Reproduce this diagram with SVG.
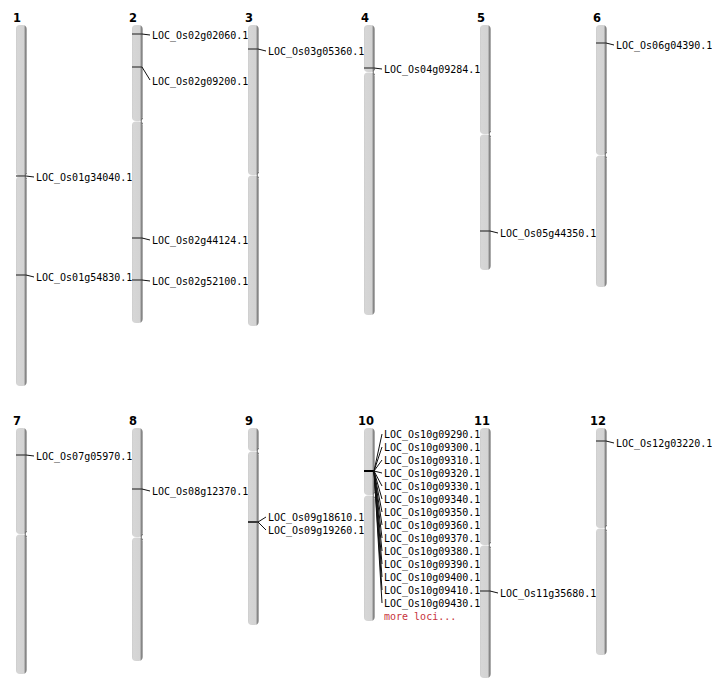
<svg xmlns="http://www.w3.org/2000/svg" width="712" height="700" viewBox="0 0 712 700">
<defs>
<linearGradient id="chrGrad" x1="0" y1="0" x2="1" y2="0">
<stop offset="0" stop-color="#cdcdcd"/>
<stop offset="0.15" stop-color="#d6d6d6"/>
<stop offset="0.72" stop-color="#d3d3d3"/>
<stop offset="0.84" stop-color="#a8a8a8"/>
<stop offset="1" stop-color="#555555"/>
</linearGradient>
</defs>
<style>
.arm{fill:url(#chrGrad);}
.notch{fill:none;stroke:#666;stroke-width:1;}
.num{font-family:"DejaVu Sans",sans-serif;font-size:11.5px;font-weight:bold;fill:#000;}
.lbl{font-family:"DejaVu Sans Mono","Liberation Mono",monospace;font-size:10px;fill:#000;}
.more{font-family:"DejaVu Sans Mono","Liberation Mono",monospace;font-size:10px;fill:#c8323c;}
.mk{stroke:#3a3a3a;stroke-width:1.2;fill:none;}
.cn{stroke:#111;stroke-width:1;fill:none;}
</style>
<rect width="712" height="700" fill="#fff"/>

<g id="chr1">
<text class="num" x="13" y="22">1</text>
<rect class="arm" x="16" y="25" width="10.5" height="151" rx="4"/>
<rect class="arm" x="16" y="176.5" width="10.5" height="209.5" rx="4"/>
<path class="notch" d="M26.5 173 L25 176 L26.5 179"/>
<text class="lbl" x="36" y="180.5">LOC_Os01g34040.1</text>
<text class="lbl" x="36" y="280.5">LOC_Os01g54830.1</text>
</g>
<g id="chr2">
<text class="num" x="129" y="22">2</text>
<rect class="arm" x="132" y="25" width="10.5" height="96" rx="4"/>
<rect class="arm" x="132" y="121.5" width="10.5" height="201.5" rx="4"/>
<path class="notch" d="M142.5 118 L141 121 L142.5 124"/>
<text class="lbl" x="152" y="38.5">LOC_Os02g02060.1</text>
<text class="lbl" x="152" y="84.5">LOC_Os02g09200.1</text>
<text class="lbl" x="152" y="243.5">LOC_Os02g44124.1</text>
<text class="lbl" x="152" y="284.5">LOC_Os02g52100.1</text>
</g>
<g id="chr3">
<text class="num" x="245" y="22">3</text>
<rect class="arm" x="248" y="25" width="10.5" height="150" rx="4"/>
<rect class="arm" x="248" y="175.5" width="10.5" height="150.5" rx="4"/>
<path class="notch" d="M258.5 172 L257 175 L258.5 178"/>
<text class="lbl" x="268" y="54.5">LOC_Os03g05360.1</text>
</g>
<g id="chr4">
<text class="num" x="361" y="22">4</text>
<rect class="arm" x="364" y="25" width="10.5" height="47" rx="4"/>
<rect class="arm" x="364" y="72.5" width="10.5" height="242.5" rx="4"/>
<path class="notch" d="M374.5 69 L373 72 L374.5 75"/>
<text class="lbl" x="384" y="72.5">LOC_Os04g09284.1</text>
</g>
<g id="chr5">
<text class="num" x="477" y="22">5</text>
<rect class="arm" x="480" y="25" width="10.5" height="109" rx="4"/>
<rect class="arm" x="480" y="134.5" width="10.5" height="135.5" rx="4"/>
<path class="notch" d="M490.5 131 L489 134 L490.5 137"/>
<text class="lbl" x="500" y="236.5">LOC_Os05g44350.1</text>
</g>
<g id="chr6">
<text class="num" x="593" y="22">6</text>
<rect class="arm" x="596" y="25" width="10.5" height="130" rx="4"/>
<rect class="arm" x="596" y="155.5" width="10.5" height="131.5" rx="4"/>
<path class="notch" d="M606.5 152 L605 155 L606.5 158"/>
<text class="lbl" x="616" y="48.5">LOC_Os06g04390.1</text>
</g>
<g id="chr7">
<text class="num" x="13" y="425">7</text>
<rect class="arm" x="16" y="428" width="10.5" height="106" rx="4"/>
<rect class="arm" x="16" y="534.5" width="10.5" height="139.5" rx="4"/>
<path class="notch" d="M26.5 531 L25 534 L26.5 537"/>
<text class="lbl" x="36" y="459.5">LOC_Os07g05970.1</text>
</g>
<g id="chr8">
<text class="num" x="129" y="425">8</text>
<rect class="arm" x="132" y="428" width="10.5" height="109" rx="4"/>
<rect class="arm" x="132" y="537.5" width="10.5" height="123.5" rx="4"/>
<path class="notch" d="M142.5 534 L141 537 L142.5 540"/>
<text class="lbl" x="152" y="494.5">LOC_Os08g12370.1</text>
</g>
<g id="chr9">
<text class="num" x="245" y="425">9</text>
<rect class="arm" x="248" y="428" width="10.5" height="23" rx="4"/>
<rect class="arm" x="248" y="451.5" width="10.5" height="173.5" rx="4"/>
<path class="notch" d="M258.5 448 L257 451 L258.5 454"/>
<text class="lbl" x="268" y="520.5">LOC_Os09g18610.1</text>
<text class="lbl" x="268" y="533.5">LOC_Os09g19260.1</text>
</g>
<g id="chr10">
<text class="num" x="358" y="425">10</text>
<rect class="arm" x="364" y="428" width="10.5" height="67" rx="4"/>
<rect class="arm" x="364" y="495.5" width="10.5" height="125.5" rx="4"/>
<path class="notch" d="M374.5 492 L373 495 L374.5 498"/>
<text class="lbl" x="384" y="437.5">LOC_Os10g09290.1</text>
<text class="lbl" x="384" y="450.5">LOC_Os10g09300.1</text>
<text class="lbl" x="384" y="463.5">LOC_Os10g09310.1</text>
<text class="lbl" x="384" y="476.5">LOC_Os10g09320.1</text>
<text class="lbl" x="384" y="489.5">LOC_Os10g09330.1</text>
<text class="lbl" x="384" y="502.5">LOC_Os10g09340.1</text>
<text class="lbl" x="384" y="515.5">LOC_Os10g09350.1</text>
<text class="lbl" x="384" y="528.5">LOC_Os10g09360.1</text>
<text class="lbl" x="384" y="541.5">LOC_Os10g09370.1</text>
<text class="lbl" x="384" y="554.5">LOC_Os10g09380.1</text>
<text class="lbl" x="384" y="567.5">LOC_Os10g09390.1</text>
<text class="lbl" x="384" y="580.5">LOC_Os10g09400.1</text>
<text class="lbl" x="384" y="593.5">LOC_Os10g09410.1</text>
<text class="lbl" x="384" y="606.5">LOC_Os10g09430.1</text>
<text class="more" x="384" y="619.5">more loci...</text>
</g>
<g id="chr11">
<text class="num" x="474" y="425">11</text>
<rect class="arm" x="480" y="428" width="10.5" height="117" rx="4"/>
<rect class="arm" x="480" y="545.5" width="10.5" height="132.5" rx="4"/>
<path class="notch" d="M490.5 542 L489 545 L490.5 548"/>
<text class="lbl" x="500" y="596.5">LOC_Os11g35680.1</text>
</g>
<g id="chr12">
<text class="num" x="590" y="425">12</text>
<rect class="arm" x="596" y="428" width="10.5" height="100" rx="4"/>
<rect class="arm" x="596" y="528.5" width="10.5" height="126.5" rx="4"/>
<path class="notch" d="M606.5 525 L605 528 L606.5 531"/>
<text class="lbl" x="616" y="446.5">LOC_Os12g03220.1</text>
</g>

<g id="connectors">
<path class="mk" d="M16 176H26"/><path class="cn" d="M26 176L34 177"/>
<path class="mk" d="M16 275H26"/><path class="cn" d="M26 275L34 277"/>
<path class="mk" d="M132 34H142"/><path class="cn" d="M142 34L150 35"/>
<path class="mk" d="M132 67H142"/><path class="cn" d="M142 67L150 80"/>
<path class="mk" d="M132 238H142"/><path class="cn" d="M142 238L150 240"/>
<path class="mk" d="M132 280H142"/><path class="cn" d="M142 280L150 281"/>
<path class="mk" d="M248 49H258"/><path class="cn" d="M258 49L266 51"/>
<path class="mk" d="M364 68H374"/><path class="cn" d="M374 68L382 69"/>
<path class="mk" d="M480 231H490"/><path class="cn" d="M490 231L498 233"/>
<path class="mk" d="M596 43H606"/><path class="cn" d="M606 43L614 45"/>
<path class="mk" d="M16 455H26"/><path class="cn" d="M26 455L34 456"/>
<path class="mk" d="M132 489H142"/><path class="cn" d="M142 489L150 491"/>
<path class="mk" d="M248 522H258" style="stroke-width:2"/><path class="cn" d="M258 522L266 517M258 522L266 530"/>
<path class="mk" d="M364 471H374" style="stroke:#000;stroke-width:2"/>
<path class="cn" d="M374 471L382 434M374 471L382 447M374 471L382 460M374 471L382 473M374 471L382 486M374 471L382 499M374 471L382 512M374 471L382 525M374 471L382 538M374 471L382 551M374 471L382 564M374 471L382 577M374 471L382 590M374 471L382 603"/>
<path class="mk" d="M480 591H490"/><path class="cn" d="M490 591L498 593"/>
<path class="mk" d="M596 441H606"/><path class="cn" d="M606 441L614 443"/>
</g>
</svg>
